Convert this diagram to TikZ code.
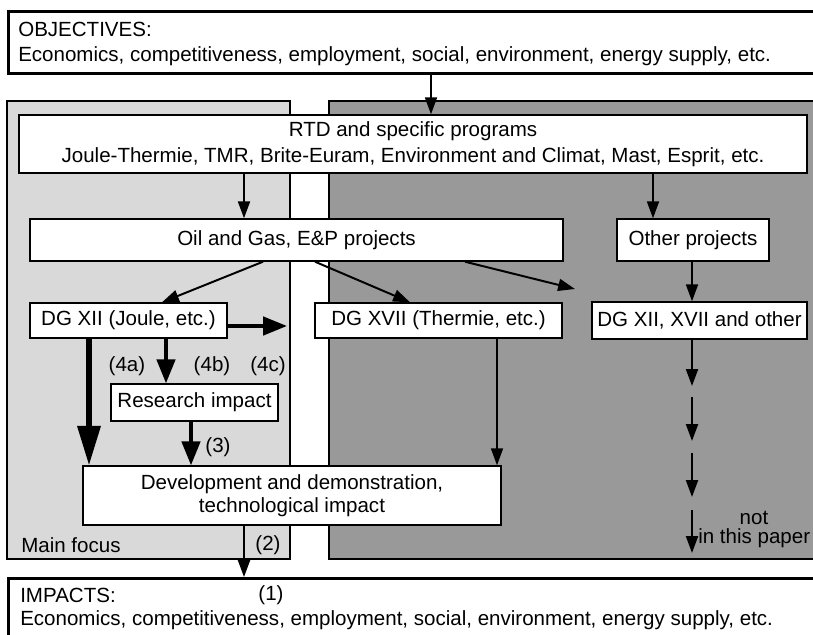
\documentclass[tikz,border=0pt]{standalone}
\usepackage{fontspec}
\setmainfont{Liberation Sans}
\usetikzlibrary{arrows.meta}
\definecolor{focusgray}{HTML}{D9D9D9}
\definecolor{othergray}{HTML}{999999}

\begin{document}
\begin{tikzpicture}[x=0.025cm,y=-0.025cm,
  font=\fontsize{14.6}{17.5}\selectfont,
  box/.style={draw,fill=white,line width=1pt,inner sep=0pt,align=center},
  frame/.style={draw,line width=2pt},
  lbl/.style={inner sep=0pt},
  arr/.style={line width=1.4pt,-{Triangle[length=12pt,width=8.5pt]}},
  fatarr/.style={line width=2.6pt,-{Triangle[length=17pt,width=13pt]}},
  bigarr/.style={line width=3.6pt,-{Triangle[length=28pt,width=16pt]}}]
\useasboundingbox (0,0) rectangle (813,635);
\fill[white] (0,0) rectangle (813,635);

% panels
\draw[frame,fill=focusgray] (7,101) rectangle (290,559);
\draw[frame,fill=othergray] (329,101) rectangle (840,559);

% objectives and impacts
\node[frame,fill=white,anchor=north west,minimum width=20.825cm,minimum height=1.55cm] (obj) at (7,10) {};
\node[lbl,align=left,anchor=north west] (objtext) at (18,22)
  {OBJECTIVES:\\Economics, competitiveness, employment, social, environment, energy supply, etc.};
\node[frame,fill=white,anchor=north west,minimum width=20.825cm,minimum height=2.1cm] (imp) at (7,577) {};
\node[lbl,align=left,anchor=north west,font=\fontsize{14.6}{16}\selectfont] (imptext) at (20,588)
  {IMPACTS:\\Economics, competitiveness, employment, social, environment, energy supply, etc.};
\node[lbl] (imp1) at (271,595) {(1)};

% boxes
\node[box,minimum width=19.7cm,minimum height=1.45cm,font=\fontsize{14.6}{18.5}\selectfont] (rtd) at (413,144)
  {RTD and specific programs\\Joule-Thermie, TMR, Brite-Euram, Environment and Climat, Mast, Esprit, etc.};
\node[box,minimum width=13.325cm,minimum height=1.05cm] (oil) at (296.5,240) {Oil and Gas, E\&P projects};
\node[box,minimum width=3.8cm,minimum height=1.05cm] (other) at (693,240) {Other projects};
\node[box,minimum width=4.925cm,minimum height=0.875cm] (dg12) at (128.5,320.5) {DG XII (Joule, etc.)};
\node[box,minimum width=6.175cm,minimum height=0.875cm] (dg17) at (438.5,320.5) {DG XVII (Thermie, etc.)};
\node[box,minimum width=5.375cm,minimum height=0.925cm] (dgoth) at (699.5,320.5) {DG XII, XVII and other};
\node[box,minimum width=4.175cm,minimum height=0.925cm] (res) at (194.5,402.5) {Research impact};
\node[box,minimum width=10.45cm,minimum height=1.475cm,font=\fontsize{14.6}{16.5}\selectfont] (dev) at (292,495.5)
  {Development and demonstration,\\technological impact};

% labels
\node[lbl] (l4a) at (127,366) {(4a)};
\node[lbl] (l4b) at (212,366) {(4b)};
\node[lbl] (l4c) at (268,366) {(4c)};
\node[lbl] (l3) at (218,447) {(3)};
\node[lbl] (l2) at (268,545) {(2)};
\node[lbl,anchor=west] (focus) at (21,545) {Main focus};
\node[lbl] (notl) at (754,518) {not};
\node[lbl,anchor=west] (paper) at (698,538) {in this paper};

\coordinate (oilend) at (575,289);
\coordinate (dgright) at (287,326);

% connectors
\draw[arr] (obj.south -| 431,0) -- (rtd.north -| 431,0);
\draw[arr] (rtd.south -| 244,0) -- (oil.north -| 244,0);
\draw[arr] (rtd.south -| 653,0) -- (other.north -| 653,0);
\draw[arr] (oil.south -| 263,0) -- (dg12.north -| 162,0);
\draw[arr] (oil.south -| 315,0) -- (dg17.north -| 410,0);
\draw[arr] (oil.south -| 465,0) -- (oilend);
\draw[arr] (other.south -| 692,0) -- (dgoth.north -| 692,0);
\draw[fatarr] (dg12.east |- dgright) -- (dgright);
\draw[fatarr] (dg12.south -| 166,0) -- (res.north -| 166,0);
\draw[bigarr] (dg12.south -| 89,0) -- (dev.north -| 89,0);
\draw[fatarr] (res.south -| 191,0) -- (dev.north -| 191,0);
\draw[arr,line width=1.1pt] (dg17.south -| 497,0) -- (dev.north -| 497,0);
\draw[arr] (dev.south -| 244,0) -- (imp.north -| 244,0);
\draw[arr] (dgoth.south -| 692,0) -- (692,386);
\foreach \ya/\yb in {397/441,453/497,510/553}
  \draw[arr] (692,\ya) -- (692,\yb);
\end{tikzpicture}
\end{document}
